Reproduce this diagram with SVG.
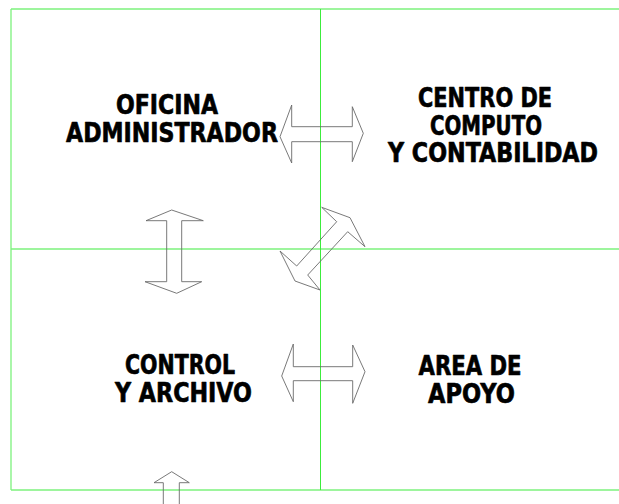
<svg xmlns="http://www.w3.org/2000/svg" width="619" height="504" viewBox="0 0 619 504">
<style>
.grid{stroke:#3cec3c;stroke-width:1;fill:none}
.edge{stroke:#7cf27c;stroke-width:1.3;fill:none}
.lbl{font-family:"DejaVu Sans","Liberation Sans",sans-serif;font-weight:bold;font-size:26.5px;fill:#000;stroke:#000;stroke-width:0.7;stroke-linejoin:round}
.arr{fill:none;stroke:#6a6a6a;stroke-width:0.9;stroke-linejoin:miter}
</style>
<rect width="619" height="504" fill="#fff"/>
<g id="grid">
<line class="edge" x1="11" y1="9" x2="619" y2="9"/>
<line class="edge" x1="11" y1="9" x2="11" y2="490"/>
<line class="edge" x1="11" y1="490" x2="619" y2="490"/>
<line class="edge" x1="11" y1="249" x2="619" y2="249"/>
<line class="grid" x1="320.5" y1="9" x2="320.5" y2="490"/>
</g>
<g id="node-oficina">
<text class="lbl" x="116" y="114.3" textLength="102" lengthAdjust="spacingAndGlyphs">OFICINA</text>
<text class="lbl" x="66" y="141.7" textLength="212" lengthAdjust="spacingAndGlyphs">ADMINISTRADOR</text>
</g>
<g id="node-centro">
<text class="lbl" x="418" y="107.3" textLength="134" lengthAdjust="spacingAndGlyphs">CENTRO DE</text>
<text class="lbl" x="430" y="135" textLength="112" lengthAdjust="spacingAndGlyphs">COMPUTO</text>
<text class="lbl" x="388" y="161.7" textLength="210" lengthAdjust="spacingAndGlyphs">Y CONTABILIDAD</text>
</g>
<g id="node-control">
<text class="lbl" x="125" y="374.3" textLength="110" lengthAdjust="spacingAndGlyphs">CONTROL</text>
<text class="lbl" x="115" y="402.3" textLength="137" lengthAdjust="spacingAndGlyphs">Y ARCHIVO</text>
</g>
<g id="node-area">
<text class="lbl" x="418.5" y="375" textLength="103" lengthAdjust="spacingAndGlyphs">AREA DE</text>
<text class="lbl" x="428" y="403" textLength="87" lengthAdjust="spacingAndGlyphs">APOYO</text>
</g>
<g id="connectors">
<polygon class="arr" points="280,136.7 291.7,105 291.7,126.7 352.3,126.7 352.3,106.7 363.3,133.3 352.3,161.7 352.3,141.7 291.7,141.7 291.7,163"/>
<polygon class="arr" points="171.7,210 203.3,220.7 181.7,220.7 181.7,281.7 201.7,281.7 176.7,293.3 145,281.7 166.7,281.7 166.7,220.7 146,220.7"/>
<polygon class="arr" points="321.7,207.3 350,217.7 365,246.7 347.7,231.7 307.7,275 320,290 295,281 280,251 296.7,266 336.7,221.7"/>
<polygon class="arr" points="281.7,376 293.3,344 293.3,366.7 352.7,366.7 352.7,345 365,371.7 352.7,403.3 352.7,380.7 293.3,380.7 293.3,401.7"/>
<polyline class="arr" points="163.3,505 163.3,482.7 154,482.7 171.7,471.7 189.3,482.7 179.3,482.7 179.3,505"/>
</g>
</svg>
